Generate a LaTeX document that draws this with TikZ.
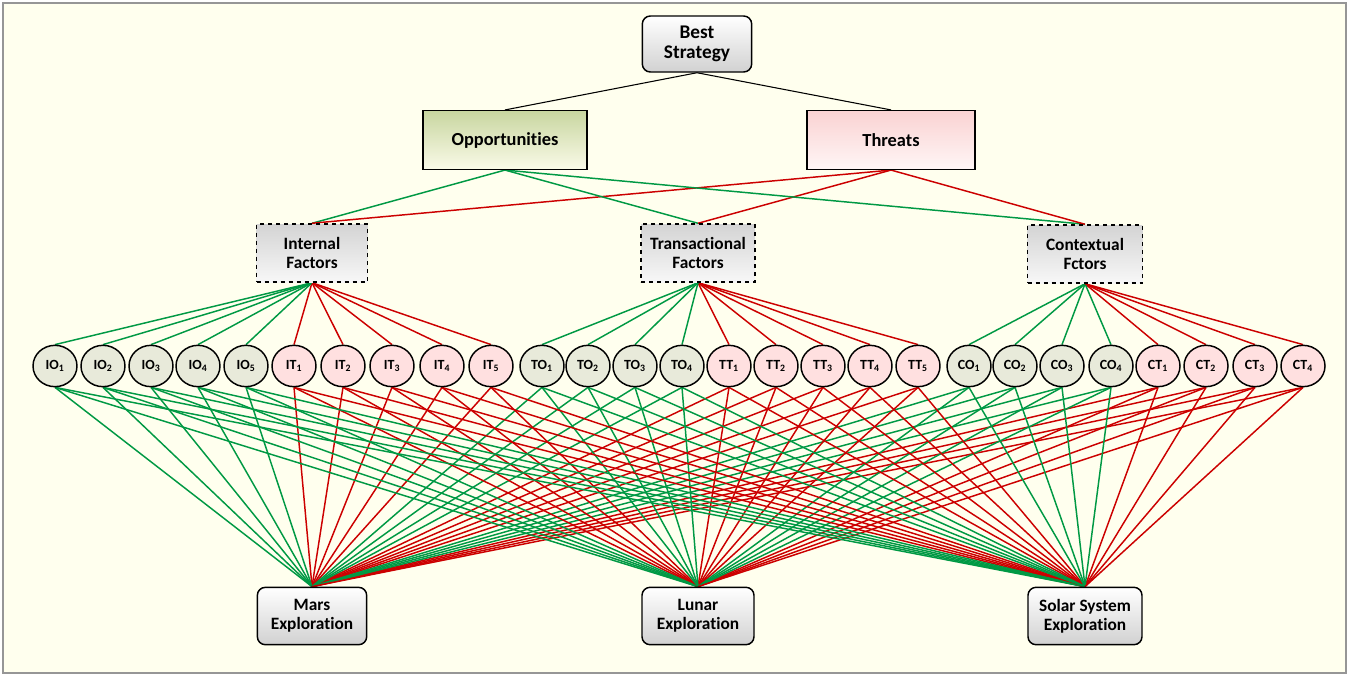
\documentclass[tikz,border=0pt]{standalone}
\usepackage{fontspec}
\setmainfont{Carlito}[Ligatures=NoCommon]
\usetikzlibrary{positioning,backgrounds}
\usetikzlibrary{shapes.geometric}
\definecolor{frame}{RGB}{150,150,150}
\definecolor{paper}{RGB}{255,255,238}
\definecolor{ogreen}{RGB}{0,153,68}
\definecolor{tred}{RGB}{204,0,0}
\definecolor{ofill}{RGB}{232,234,218}
\definecolor{tfill}{RGB}{255,224,224}
\tikzset{every picture/.style={/utils/exec={\bfseries}}}

\begin{document}
\begin{tikzpicture}[x=0.75pt, y=-0.75pt]
  \tikzstyle{goal} = [rectangle, rounded corners=6pt, draw=black, line width=1.1pt, top color=white, bottom color=black!18, align=center, font=\fontsize{14.5}{15.5}\selectfont\bfseries]
  \tikzstyle{opp} = [rectangle, draw=black, line width=1.1pt, top color={rgb,255:red,200;green,214;blue,160}, bottom color={rgb,255:red,250;green,250;blue,232}, minimum width=123pt, minimum height=44pt, font=\fontsize{13.8}{15}\selectfont\bfseries]
  \tikzstyle{thr} = [opp, top color={rgb,255:red,250;green,210;blue,210}, bottom color={rgb,255:red,255;green,246;blue,246}, minimum width=126pt]
  \tikzstyle{factor} = [rectangle, dashed, draw=black, line width=1.1pt, top color=black!17, bottom color=black!3, align=center, minimum height=43.5pt, font=\fontsize{13}{14}\selectfont\bfseries]
  \tikzstyle{oitem} = [ellipse, draw=black, line width=1.1pt, fill=ofill, minimum width=33pt, minimum height=31pt, inner sep=0pt, font=\fontsize{10.5}{11}\selectfont\bfseries]
  \tikzstyle{titem} = [oitem, fill=tfill]
  \tikzstyle{option} = [goal, minimum height=43pt, font=\fontsize{13}{14.5}\selectfont\bfseries]

  \tikzstyle{gline} = [ogreen, line width=1.1pt]
  \tikzstyle{rline} = [tred, line width=1.1pt]

  \useasboundingbox (0,0) rectangle (1360,678);

  \node (best) [goal, minimum width=82pt, minimum height=42pt] at (697,44) {Best\\Strategy};
  \node (opp) [opp] at (505,140) {Opportunities};
  \node (thr) [thr] at (891,140) {Threats};

  \node (int) [factor, minimum width=83pt] at (312,253) {Internal\\Factors};
  \node (trans) [factor, minimum width=85.5pt] at (698,253) {Transactional\\Factors};
  \node (cont) [factor, minimum width=86pt] at (1085,254) {Contextual\\Fctors};

  % criteria row
  \foreach \x [count=\k] in {55,103,151,198,246}
    \node (IO\k) [oitem] at (\x,366) {IO\textsubscript{\k}};
  \foreach \x [count=\k] in {294,343,392,442,491}
    \node (IT\k) [titem] at (\x,366) {IT\textsubscript{\k}};
  \foreach \x [count=\k] in {542,588,635,682}
    \node (TO\k) [oitem] at (\x,366) {TO\textsubscript{\k}};
  \foreach \x [count=\k] in {729,776,823,870,918}
    \node (TT\k) [titem] at (\x,366) {TT\textsubscript{\k}};
  \foreach \x [count=\k] in {969,1015,1062,1111}
    \node (CO\k) [oitem] at (\x,366) {CO\textsubscript{\k}};
  \foreach \x [count=\k] in {1158,1206,1255,1303}
    \node (CT\k) [titem] at (\x,366) {CT\textsubscript{\k}};

  \node (mars) [option, minimum width=82pt] at (312,616) {Mars\\Exploration};
  \node (lunar) [option, minimum width=84pt] at (698,616) {Lunar\\Exploration};
  \node (solar) [option, minimum width=85.5pt] at (1085,616) {Solar System\\Exploration};

  \begin{scope}[on background layer]
    \draw [frame, fill=paper, line width=1.2pt] (3,3) rectangle (1346,673);
    \draw [thick] (best.south) -- (opp.north);
    \draw [thick] (best.south) -- (thr.north);
    \foreach \f in {int,trans,cont} {
      \draw [gline] (opp.south) -- (\f.north);
      \draw [rline] (thr.south) -- (\f.north);
    }
    \foreach \k in {1,...,5} {
      \draw [gline] (int.south) -- (IO\k.north);
      \draw [rline] (int.south) -- (IT\k.north);
      \draw [rline] (trans.south) -- (TT\k.north);
    }
    \foreach \k in {1,...,4} {
      \draw [gline] (trans.south) -- (TO\k.north);
      \draw [gline] (cont.south) -- (CO\k.north);
      \draw [rline] (cont.south) -- (CT\k.north);
    }
    % every criterion to every option
    \foreach \b in {mars,lunar,solar} {
      \foreach \k in {1,...,5} {
        \draw [gline] (IO\k.south) -- (\b.north);
        \draw [rline] (IT\k.south) -- (\b.north);
        \draw [rline] (TT\k.south) -- (\b.north);
      }
      \foreach \k in {1,...,4} {
        \draw [gline] (TO\k.south) -- (\b.north);
        \draw [gline] (CO\k.south) -- (\b.north);
        \draw [rline] (CT\k.south) -- (\b.north);
      }
    }
  \end{scope}
\end{tikzpicture}
\end{document}
